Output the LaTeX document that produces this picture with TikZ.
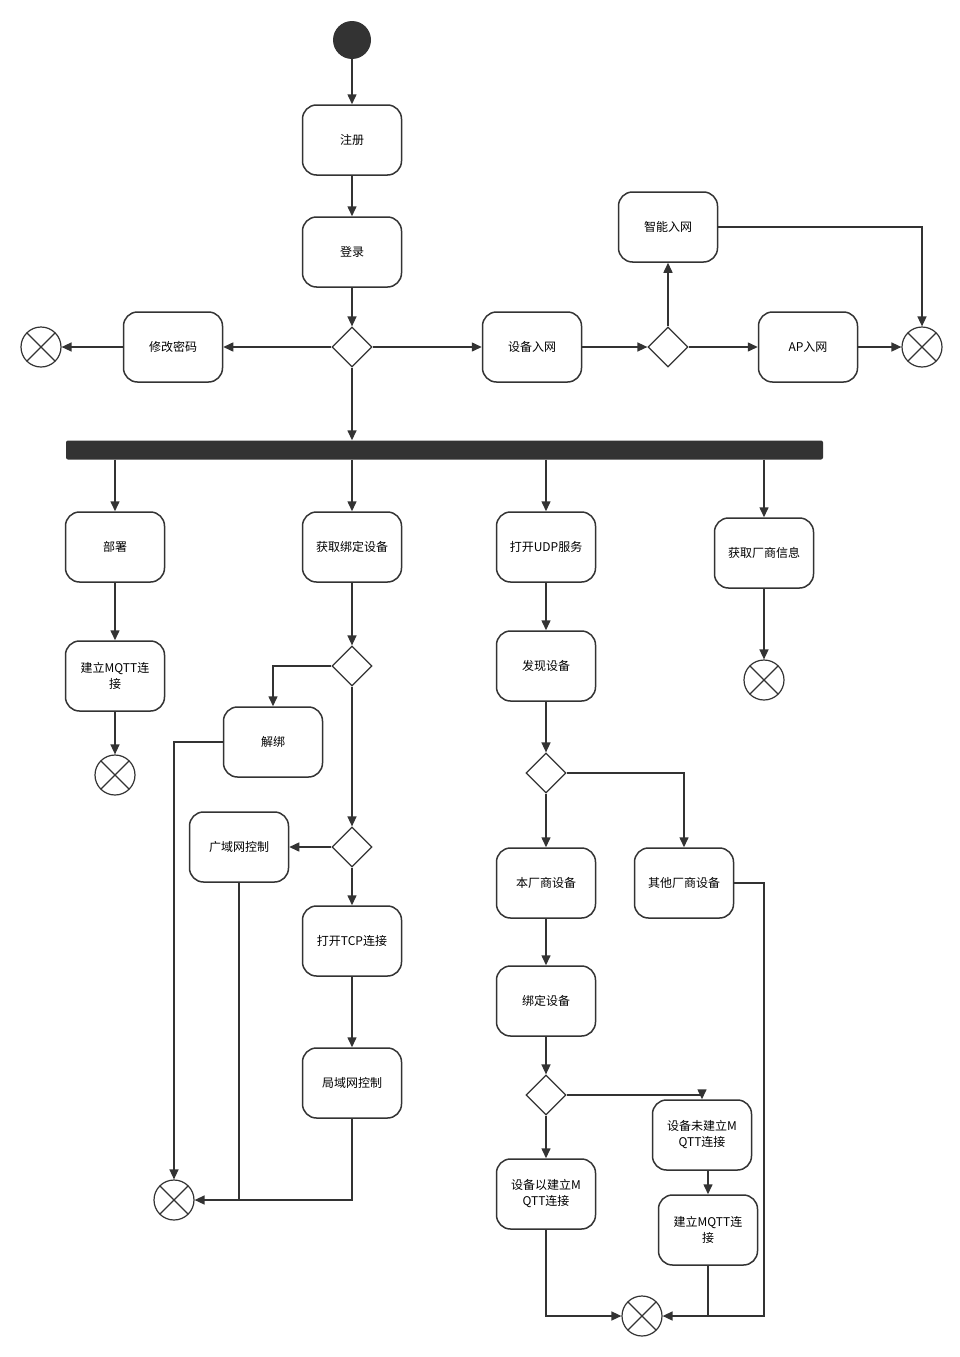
\documentclass[tikz,border=0pt]{standalone}
\usepackage{fontspec}
\setmainfont{Noto Sans CJK SC}
\usetikzlibrary{shapes.geometric,arrows.meta}
\definecolor{ink}{HTML}{333333}
\begin{document}
\begin{tikzpicture}[x=1pt,y=-1pt,
  act/.style={draw=ink,line width=1.5pt,rounded corners=14pt,minimum width=99pt,minimum height=70pt,align=center,font=\fontsize{12}{16}\selectfont,inner sep=0pt},
  dec/.style={draw=ink,line width=1.2pt,diamond,minimum width=40pt,minimum height=40pt,inner sep=0pt},
  fin/.style={draw=ink,line width=1.2pt,circle,minimum size=40pt,inner sep=0pt,path picture={\draw[ink,line width=1.2pt] (path picture bounding box.north west)--(path picture bounding box.south east) (path picture bounding box.north east)--(path picture bounding box.south west);}},
  ar/.style={draw=ink,line width=1.5pt,-{Triangle[length=10pt,width=9pt]}},
  ln/.style={draw=ink,line width=1.5pt}]
\useasboundingbox (0,0) rectangle (960,1357);
\node[circle,fill=ink,minimum size=38pt,inner sep=0pt] (st) at (352,40) {};
\node[act] (reg) at (352,140) {注册};
\node[act] (login) at (352,252) {登录};
\node[dec] (d1) at (352,347) {};
\node[act] (pwd) at (173,347) {修改密码};
\node[fin] (e1) at (41,347) {};
\node[act] (net) at (532,347) {设备入网};
\node[dec] (d2) at (668,347) {};
\node[act] (ap) at (808,347) {AP入网};
\node[act] (smart) at (668,227) {智能入网};
\node[fin] (e2) at (922,347) {};
\node[fill=ink,minimum width=757pt,minimum height=19pt,inner sep=0pt,rounded corners=2pt] (bar) at (444.5,450) {};
\node[act] (dep) at (115,547) {部署};
\node[act] (mq1) at (115,676) {建立MQTT连\\接};
\node[fin] (e3) at (115,775) {};
\node[act] (getb) at (352,547) {获取绑定设备};
\node[dec] (d3) at (352,666) {};
\node[act] (unb) at (273,742) {解绑};
\node[dec] (d4) at (352,847) {};
\node[act] (wan) at (239,847) {广域网控制};
\node[act] (tcp) at (352,941) {打开TCP连接};
\node[act] (lan) at (352,1083) {局域网控制};
\node[fin] (e4) at (174,1200) {};
\node[act] (udp) at (546,547) {打开UDP服务};
\node[act] (vend) at (764,553) {获取厂商信息};
\node[fin] (e5) at (764,680) {};
\node[act] (disc) at (546,666) {发现设备};
\node[dec] (d5) at (546,773) {};
\node[act] (own) at (546,883) {本厂商设备};
\node[act] (oth) at (684,883) {其他厂商设备};
\node[act] (bind) at (546,1001) {绑定设备};
\node[dec] (d6) at (546,1095) {};
\node[act] (has) at (546,1194) {设备以建立M\\QTT连接};
\node[act] (not) at (702,1135) {设备未建立M\\QTT连接};
\node[act] (mq2) at (708,1230) {建立MQTT连\\接};
\node[fin] (e6) at (642,1316) {};

\draw[ar] (st)--(reg);
\draw[ar] (reg)--(login);
\draw[ar] (login)--(d1);
\draw[ar] (d1)--(pwd);
\draw[ar] (pwd)--(e1);
\draw[ar] (d1)--(net);
\draw[ar] (net)--(d2);
\draw[ar] (d2)--(ap);
\draw[ar] (ap)--(e2);
\draw[ar] (d2)--(smart);
\draw[ar] (smart.east)-|(e2.north);
\draw[ar] (d1)--(bar.north-|d1);
\draw[ar] (bar.south-|dep)--(dep);
\draw[ar] (bar.south-|getb)--(getb);
\draw[ar] (bar.south-|udp)--(udp);
\draw[ar] (bar.south-|vend)--(vend);
\draw[ar] (dep)--(mq1);
\draw[ar] (mq1)--(e3);
\draw[ar] (getb)--(d3);
\draw[ar] (d3.west)-|(unb.north);
\draw[ar] (d3)--(d4);
\draw[ar] (d4)--(wan);
\draw[ar] (d4)--(tcp);
\draw[ar] (tcp)--(lan);
\draw[ar] (unb.west)-|(e4.north);
\draw[ar] (lan.south)|-(e4.east);
\draw[ln] (wan.south)--(wan.south|-e4.east);
\draw[ar] (vend)--(e5);
\draw[ar] (udp)--(disc);
\draw[ar] (disc)--(d5);
\draw[ar] (d5)--(own);
\draw[ar] (d5.east)-|(oth.north);
\draw[ar] (own)--(bind);
\draw[ar] (bind)--(d6);
\draw[ar] (d6)--(has);
\draw[ar] (d6.east)-|(not.north);
\draw[ar] (not.south-|mq2)--(mq2);
\draw[ar] (has.south)|-(e6.west);
\draw[ar] (oth.east)-|(764,1316)--(e6.east);
\draw[ln] (mq2.south)--(mq2.south|-e6.east);
\end{tikzpicture}
\end{document}
